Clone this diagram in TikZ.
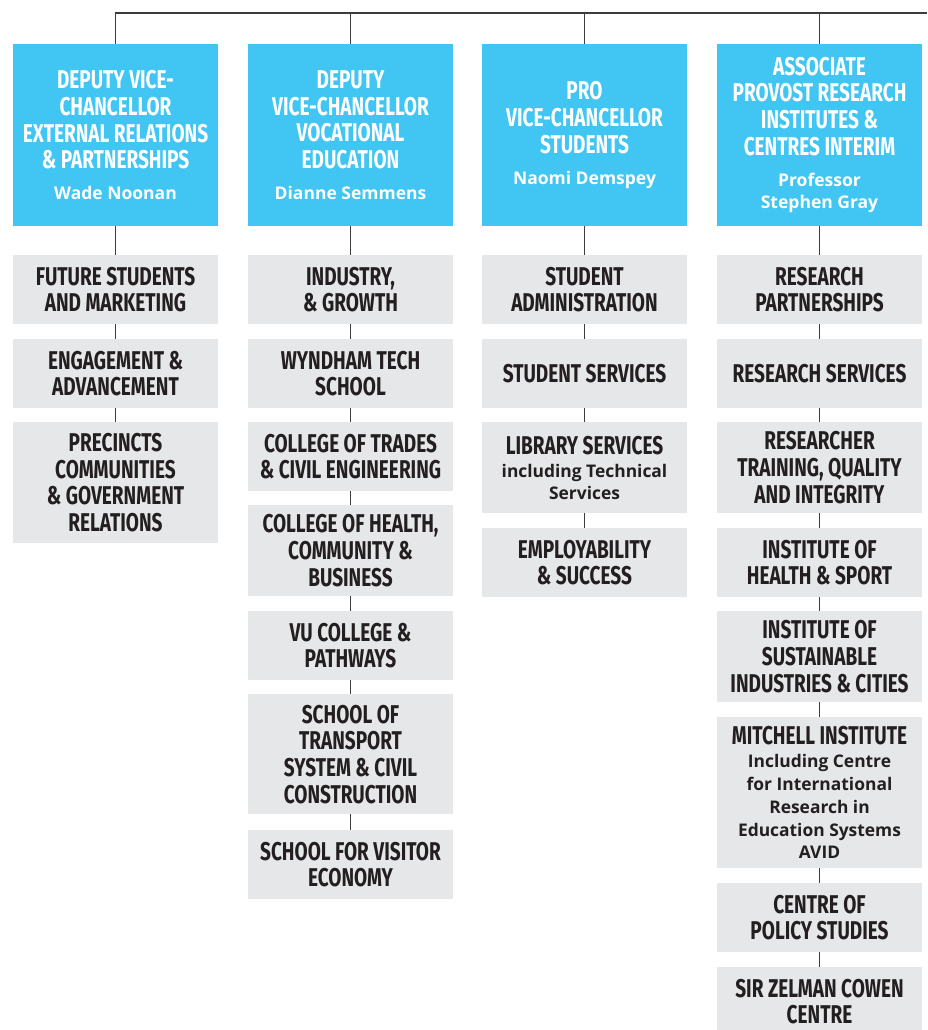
\documentclass[tikz,border=0pt]{standalone}
\usepackage{fontspec}
\usepackage{tikz}

\newfontfamily\headfont[FakeStretch=0.74]{Fira Sans}
\newfontfamily\namefont{Open Sans}

\definecolor{vublue}{RGB}{65,197,242}
\definecolor{unitgray}{RGB}{230,231,232}
\definecolor{inkdark}{RGB}{35,31,32}
\definecolor{linkgray}{RGB}{60,60,60}

\newcommand\who[1]{{\namefont\bfseries\fontsize{17.5}{22.7}\selectfont #1}}
\newcommand\unitnote[1]{{\namefont\bfseries\fontsize{17.4}{22.7}\selectfont #1}}

\begin{document}
\begin{tikzpicture}[x=1pt,y=-1pt,
  head/.style={fill=vublue,text=white,minimum width=205pt,minimum height=182pt,
    inner sep=0pt,align=center,font=\headfont\bfseries\fontsize{25.7}{26.7}\selectfont},
  unit/.style={fill=unitgray,text=inkdark,minimum width=205pt,inner sep=0pt,anchor=north,
    align=center,font=\headfont\bfseries\fontsize{25.7}{26.7}\selectfont},
  link/.style={draw=linkgray,line width=1.2pt}]

\useasboundingbox (0,0) rectangle (927,1030);

% heads
\node[head] (ext) at (115.5,135) {DEPUTY VICE-\\CHANCELLOR\\EXTERNAL RELATIONS\\\& PARTNERSHIPS\\[4pt]\who{Wade Noonan}};
\node[head] (voc) at (350.5,135) {DEPUTY\\VICE-CHANCELLOR\\VOCATIONAL\\EDUCATION\\[4pt]\who{Dianne Semmens}};
\node[head] (stu) at (584.5,135) {PRO\\VICE-CHANCELLOR\\STUDENTS\\[4pt]\who{Naomi Demspey}};
\node[head] (res) at (819.5,135) {ASSOCIATE\\PROVOST RESEARCH\\INSTITUTES \&\\CENTRES INTERIM\\[4pt]\who{Professor}\\[-4pt]\who{Stephen Gray}};

% external relations
\node[unit,minimum height=69pt] (ext1) at (115.5,255) {FUTURE STUDENTS\\AND MARKETING};
\node[unit,minimum height=69pt] (ext2) at (115.5,339) {ENGAGEMENT \&\\ADVANCEMENT};
\node[unit,minimum height=121pt] (ext3) at (115.5,422) {PRECINCTS\\COMMUNITIES\\\& GOVERNMENT\\RELATIONS};

% vocational education
\node[unit,minimum height=69pt] (voc1) at (350.5,255) {INDUSTRY,\\\& GROWTH};
\node[unit,minimum height=69pt] (voc2) at (350.5,339) {WYNDHAM TECH\\SCHOOL};
\node[unit,minimum height=69pt] (voc3) at (350.5,422) {COLLEGE OF TRADES\\\& CIVIL ENGINEERING};
\node[unit,minimum height=91pt] (voc4) at (350.5,505) {COLLEGE OF HEALTH,\\COMMUNITY \&\\BUSINESS};
\node[unit,minimum height=69pt] (voc5) at (350.5,611) {VU COLLEGE \&\\PATHWAYS};
\node[unit,minimum height=120pt] (voc6) at (350.5,694) {SCHOOL OF\\TRANSPORT\\SYSTEM \& CIVIL\\CONSTRUCTION};
\node[unit,minimum height=69pt] (voc7) at (350.5,830) {SCHOOL FOR VISITOR\\ECONOMY};

% students
\node[unit,minimum height=69pt] (stu1) at (584.5,255) {STUDENT\\ADMINISTRATION};
\node[unit,minimum height=69pt] (stu2) at (584.5,339) {STUDENT SERVICES};
\node[unit,minimum height=91pt] (stu3) at (584.5,422) {LIBRARY SERVICES\\[-3.7pt]\unitnote{including Technical}\\[-4.5pt]\unitnote{Services}};
\node[unit,minimum height=69pt] (stu4) at (584.5,528) {EMPLOYABILITY\\\& SUCCESS};

% research
\node[unit,minimum height=69pt] (res1) at (819.5,255) {RESEARCH\\PARTNERSHIPS};
\node[unit,minimum height=69pt] (res2) at (819.5,339) {RESEARCH SERVICES};
\node[unit,minimum height=91pt] (res3) at (819.5,422) {RESEARCHER\\TRAINING, QUALITY\\AND INTEGRITY};
\node[unit,minimum height=69pt] (res4) at (819.5,528) {INSTITUTE OF\\HEALTH \& SPORT};
\node[unit,minimum height=91pt] (res5) at (819.5,611) {INSTITUTE OF\\SUSTAINABLE\\INDUSTRIES \& CITIES};
\node[unit,minimum height=151pt] (res6) at (819.5,717) {MITCHELL INSTITUTE\\[-3.7pt]\unitnote{Including Centre}\\[-4pt]\unitnote{for International}\\[-4pt]\unitnote{Research in}\\[-4pt]\unitnote{Education Systems}\\[-4pt]\unitnote{AVID}};
\node[unit,minimum height=69pt] (res7) at (819.5,883) {CENTRE OF\\POLICY STUDIES};
\node[unit,minimum height=69pt] (res8) at (819.5,967) {SIR ZELMAN COWEN\\CENTRE};

% top rule
\coordinate (topR) at (927,13);
\draw[link,line width=1.6pt] (ext.north) |- (topR);
\foreach \n in {voc,stu,res}
  \draw[link] (\n.north) -- (\n.north |- topR);

% chains
\foreach \a/\b in {ext/ext1,ext1/ext2,ext2/ext3,
                   voc/voc1,voc1/voc2,voc2/voc3,voc3/voc4,voc4/voc5,voc5/voc6,voc6/voc7,
                   stu/stu1,stu1/stu2,stu2/stu3,stu3/stu4,
                   res/res1,res1/res2,res2/res3,res3/res4,res4/res5,res5/res6,res6/res7,res7/res8}
  \draw[link] (\a.south) -- (\b.north);

\end{tikzpicture}
\end{document}
